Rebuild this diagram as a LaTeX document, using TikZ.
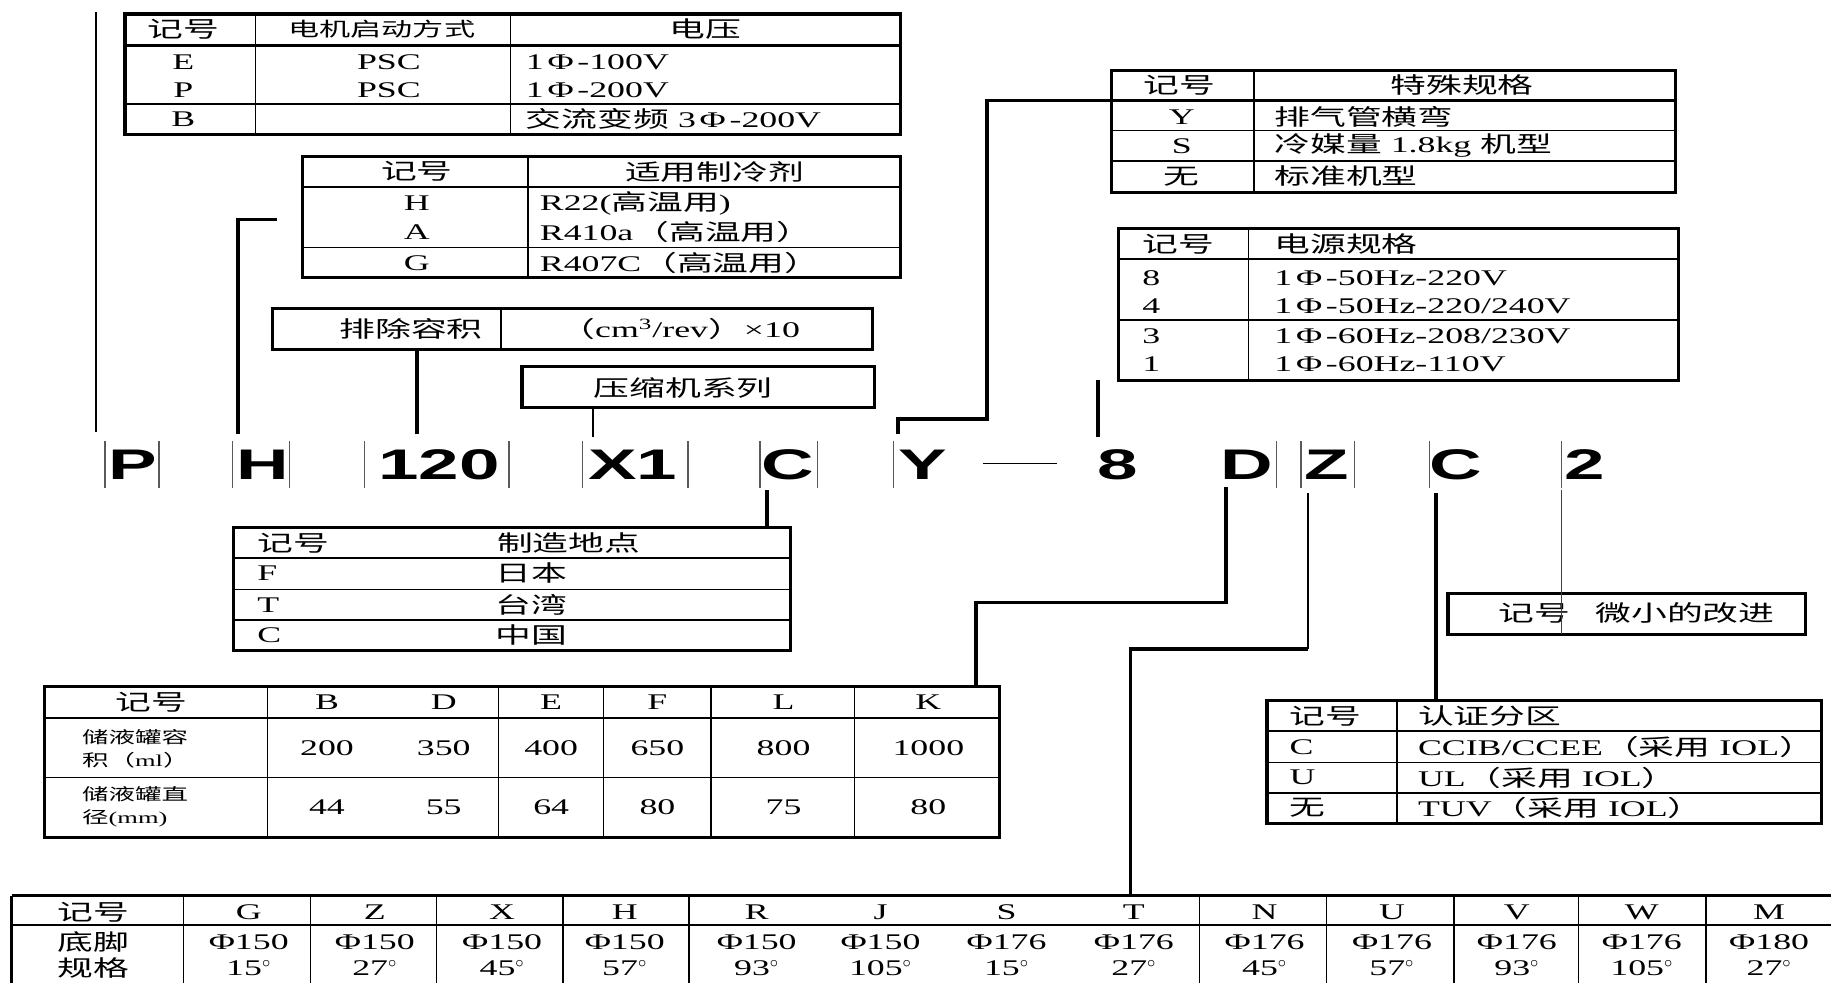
\documentclass[tikz,border=0pt]{standalone}
\usepackage{fontspec}
\setmainfont{Liberation Serif}[FakeStretch=1.6]
\setsansfont{Liberation Sans}[FakeStretch=1.7]
\newfontfamily\cjk{Noto Sans CJK SC}[FakeStretch=1.6]
\usetikzlibrary{positioning, calc}
\newcommand{\zh}[1]{{\cjk #1}}

\tikzset{
  tabframe/.style={line width=1.6pt},
  tabhead/.style={line width=1.1pt},
  tabrule/.style={line width=0.7pt},
  leadthick/.style={line width=1.9pt},
  leadmid/.style={line width=1.2pt},
  leadthin/.style={line width=0.8pt},
  codebar/.style={line width=0.8pt, black!65},
  celltext/.style={inner sep=0pt, font=\fontsize{11.5}{13}\selectfont},
  cellsmall/.style={inner sep=0pt, align=left, font=\fontsize{8.5}{12}\selectfont},
  codeletter/.style={inner sep=0pt, font=\sffamily\bfseries\fontsize{22}{24}\selectfont},
}

\begin{document}
\begin{tikzpicture}[x=0.6pt, y=-0.6pt]
  \useasboundingbox (0,0) rectangle (1568,842);

  % model code
  \node[codeletter] (cP) at (114,398) {P};
  \node[codeletter] (cH) at (225,398) {H};
  \node[codeletter] (c120) at (376,398) {120};
  \node[codeletter] (cX1) at (542,398) {X1};
  \node[codeletter] (cC) at (675,398) {C};
  \node[codeletter] (cY) at (790,398) {Y};
  \node[codeletter] (c8) at (957,398) {8};
  \node[codeletter] (cD) at (1068,398) {D};
  \node[codeletter] (cZ) at (1136,398) {Z};
  \node[codeletter] (cC2) at (1247,398) {C};
  \node[codeletter] (c2) at (1357,398) {2};
  \foreach \bx in {90,136,199,248,312,436,499,589,651,700,765,1093,1114,1160,1224,1337}
    \draw[codebar] (\bx,378) -- (\bx,418);
  \draw[leadthin] (842,397) -- (905,397);

  % motor start / voltage
  \coordinate (motNW) at (107,12);
  \coordinate (motSE) at (771,115);
  \draw[tabframe] (motNW) rectangle (motSE);
  \draw[tabhead] (107,39) -- (771,39);
  \draw[tabrule] (107,89) -- (771,89);
  \draw[tabrule] (219,12) -- (219,115) (437,12) -- (437,115);
  \node[celltext] (motH1) at (157,25) {\zh{记号}};
  \node[celltext, font=\fontsize{10}{12}\selectfont] (motH2) at (327,25) {\zh{电机启动方式}};
  \node[celltext] (motH3) at (604,25) {\zh{电压}};
  \node[celltext] (motE) at (157,53) {E};
  \node[celltext] (motE2) at (333,53) {PSC};
  \node[celltext, anchor=west] (motE3) at (450,53) {1\,Φ\,-100V};
  \node[celltext] (motP) at (157,77) {P};
  \node[celltext] (motP2) at (333,77) {PSC};
  \node[celltext, anchor=west] (motP3) at (450,77) {1\,Φ\,-200V};
  \node[celltext] (motB) at (157,102) {B};
  \node[celltext, anchor=west] (motB3) at (450,102) {\zh{交流变频} 3\,Φ\,-200V};

  % refrigerant
  \coordinate (refNW) at (259,134);
  \coordinate (refSE) at (771,238);
  \draw[tabframe] (refNW) rectangle (refSE);
  \draw[tabhead] (259,160) -- (771,160);
  \draw[tabrule] (259,212) -- (771,212);
  \draw[tabrule] (452,134) -- (452,238);
  \node[celltext] (refH1) at (357,147) {\zh{记号}};
  \node[celltext] (refH2) at (612,147) {\zh{适用制冷剂}};
  \node[celltext] (refH) at (357,174) {H};
  \node[celltext, anchor=west] (refH3) at (462,174) {R22(\zh{高温用})};
  \node[celltext] (refA) at (357,199) {A};
  \node[celltext, anchor=west] (refA3) at (462,199) {R410a\zh{（高温用）}};
  \node[celltext] (refG) at (357,225) {G};
  \node[celltext, anchor=west] (refG3) at (462,225) {R407C\zh{（高温用）}};

  % displacement
  \coordinate (dispNW) at (233,264);
  \coordinate (dispSE) at (747,299);
  \draw[tabframe] (dispNW) rectangle (dispSE);
  \draw[tabrule] (429,264) -- (429,299);
  \node[celltext] (disp1) at (352,282) {\zh{排除容积}};
  \node[celltext] (disp2) at (582,282) {\zh{（}cm\textsuperscript{3}/rev\zh{）}×10};

  % compressor series
  \coordinate (serNW) at (447,314);
  \coordinate (serSE) at (749,349);
  \draw[tabframe] (serNW) rectangle (serSE);
  \node[celltext] (ser) at (585,332) {\zh{压缩机系列}};

  % special specification
  \coordinate (spcNW) at (952,60);
  \coordinate (spcSE) at (1435,165);
  \draw[tabframe] (spcNW) rectangle (spcSE);
  \draw[tabhead] (952,86) -- (1435,86);
  \draw[tabrule] (952,112) -- (1435,112) (952,138) -- (1435,138);
  \draw[tabhead] (1074,60) -- (1074,165);
  \node[celltext] (spcH1) at (1010,73) {\zh{记号}};
  \node[celltext] (spcH2) at (1252,73) {\zh{特殊规格}};
  \node[celltext] (spcY) at (1012,100) {Y};
  \node[celltext, anchor=west] (spcY3) at (1091,100) {\zh{排气管横弯}};
  \node[celltext] (spcS) at (1012,125) {S};
  \node[celltext, anchor=west] (spcS3) at (1091,125) {\zh{冷媒量} 1.8kg \zh{机型}};
  \node[celltext] (spcN) at (1012,151) {\zh{无}};
  \node[celltext, anchor=west] (spcN3) at (1091,151) {\zh{标准机型}};

  % power supply
  \coordinate (pwrNW) at (958,196);
  \coordinate (pwrSE) at (1437,326);
  \draw[tabframe] (pwrNW) rectangle (pwrSE);
  \draw[tabhead] (958,222) -- (1437,222);
  \draw[tabrule] (958,274) -- (1437,274);
  \draw[tabrule] (1069,196) -- (1069,326);
  \node[celltext, anchor=west] (pwrH1) at (978,209) {\zh{记号}};
  \node[celltext, anchor=west] (pwrH2) at (1091,209) {\zh{电源规格}};
  \node[celltext, anchor=west] (pwr8) at (978,238) {8};
  \node[celltext, anchor=west] (pwr83) at (1091,238) {1\,Φ\,-50Hz-220V};
  \node[celltext, anchor=west] (pwr4) at (978,262) {4};
  \node[celltext, anchor=west] (pwr43) at (1091,262) {1\,Φ\,-50Hz-220/240V};
  \node[celltext, anchor=west] (pwr3) at (978,288) {3};
  \node[celltext, anchor=west] (pwr33) at (1091,288) {1\,Φ\,-60Hz-208/230V};
  \node[celltext, anchor=west] (pwr1) at (978,312) {1};
  \node[celltext, anchor=west] (pwr13) at (1091,312) {1\,Φ\,-60Hz-110V};

  % place of manufacture
  \coordinate (locNW) at (200,452);
  \coordinate (locSE) at (677,557);
  \draw[tabframe] (locNW) rectangle (locSE);
  \draw[tabhead] (200,478) -- (677,478);
  \draw[tabrule] (200,505) -- (677,505) (200,531) -- (677,531);
  \node[celltext, anchor=west] (locH1) at (220,465) {\zh{记号}};
  \node[celltext] (locH2) at (487,465) {\zh{制造地点}};
  \foreach \k/\nm/\yy in {F/日本/491, T/台湾/518, C/中国/544} {
    \node[celltext, anchor=west] (loc\k) at (220,\yy) {\k};
    \node[celltext] (loc\k3) at (455,\yy) {\zh{\nm}};
  }

  % accumulator
  \coordinate (accNW) at (38,588);
  \coordinate (accSE) at (856,717);
  \draw[tabframe] (accNW) rectangle (accSE);
  \draw[tabhead] (38,615) -- (856,615);
  \draw[tabrule] (38,666) -- (856,666);
  \foreach \cx in {229,427,517,609,732}
    \draw[tabrule] (\cx,588) -- (\cx,717);
  \node[celltext] (accH) at (130,601) {\zh{记号}};
  \node[cellsmall, anchor=west] (accV) at (70,641) {\zh{储液罐容}\\\zh{积（}ml\zh{）}};
  \node[cellsmall, anchor=west] (accD) at (70,691) {\zh{储液罐直}\\\zh{径}(mm)};
  \foreach \x/\k/\v/\d in {280/B/200/44, 380/D/350/55, 472/E/400/64, 563/F/650/80, 671/L/800/75, 795/K/1000/80} {
    \node[celltext] (acc\k) at (\x,601) {\k};
    \node[celltext] (acc\k v) at (\x,641) {\v};
    \node[celltext] (acc\k d) at (\x,691) {\d};
  }

  % certification
  \coordinate (crtNW) at (1085,600);
  \coordinate (crtSE) at (1560,705);
  \draw[tabframe] (crtNW) rectangle (crtSE);
  \draw[tabhead] (1085,626) -- (1560,626);
  \draw[tabrule] (1085,653) -- (1560,653) (1085,679) -- (1560,679);
  \draw[tabhead] (1196,600) -- (1196,705);
  \node[celltext, anchor=west] (crtH1) at (1104,613) {\zh{记号}};
  \node[celltext, anchor=west] (crtH2) at (1214,613) {\zh{认证分区}};
  \node[celltext, anchor=west] (crtC) at (1104,640) {C};
  \node[celltext, anchor=west] (crtC3) at (1214,640) {CCIB/CCEE\zh{（采用} IOL\zh{）}};
  \node[celltext, anchor=west] (crtU) at (1104,666) {U};
  \node[celltext, anchor=west] (crtU3) at (1214,666) {UL\zh{（采用} IOL\zh{）}};
  \node[celltext, anchor=west] (crtN) at (1104,692) {\zh{无}};
  \node[celltext, anchor=west] (crtN3) at (1214,692) {TUV\zh{（采用} IOL\zh{）}};

  % minor improvement
  \coordinate (impNW) at (1240,508);
  \coordinate (impSE) at (1546,543);
  \draw[tabframe] (impNW) rectangle (impSE);
  \node[celltext, anchor=west] (imp1) at (1283,525) {\zh{记号}};
  \node[celltext, anchor=west] (imp2) at (1366,525) {\zh{微小的改进}};

  % mounting feet
  \coordinate (ftNW) at (10,767);
  \coordinate (ftNE) at (1568,767);
  \draw[tabframe] (ftNW) -- (ftNE) (ftNW) -- (10,842);
  \draw[tabrule] (10,792) -- (1568,792);
  \foreach \cx in {157,266,374,482,590,1027,1136,1245,1352,1461}
    \draw[tabrule] (\cx,767) -- (\cx,842);
  \node[celltext] (ftH) at (80,781) {\zh{记号}};
  \node[celltext] (ftA) at (80,807) {\zh{底脚}};
  \node[celltext] (ftB) at (80,829) {\zh{规格}};
  \foreach \x/\k/\d/\a in {213/G/150/15, 321/Z/150/27, 430/X/150/45, 535/H/150/57, 648/R/150/93, 754/J/150/105, 862/S/176/15, 971/T/176/27, 1083/N/176/45, 1192/U/176/57, 1299/V/176/93, 1406/W/176/105, 1515/M/180/27} {
    \node[celltext] (ft\k) at (\x,781) {\k};
    \node[celltext] (ft\k d) at (\x,807) {Φ\d};
    \node[celltext] (ft\k a) at (\x,829) {\a$^{\circ}$};
  }

  % leads
  \coordinate (hP) at (82,370);
  \coordinate (tP) at (82,10);
  \draw[leadmid] (hP) -- (tP);
  \coordinate (hH) at (204,372);
  \coordinate (tH) at (237,188);
  \draw[leadthick] (hH) |- (tH);
  \coordinate (h120) at (357,372);
  \draw[leadthick] (h120) -- (h120 |- dispSE);
  \coordinate (hX1) at (508,374);
  \draw[leadthin] (hX1) -- (hX1 |- serSE);
  \coordinate (hC) at (657,420);
  \draw[leadthick] (hC) -- (hC |- locNW);
  \coordinate (hY) at (769,372);
  \draw[leadthick] (hY) -- (769,359) -| (845,86) -- (spcNW |- 0,86);
  \coordinate (h8) at (940,374);
  \coordinate (t8) at (940,325);
  \draw[leadthick] (h8) -- (t8);
  \coordinate (hD) at (1050,417);
  \draw[leadthick] (hD) -- (1050,516) -| (accNW -| 836,0);
  \coordinate (hZ) at (1120,422);
  \coordinate (kZ) at (1120,556);
  \draw[leadthin] (hZ) -- (kZ);
  \draw[leadthick] (kZ) -| (968,767);
  \coordinate (hC2) at (1230,422);
  \draw[leadthick] (hC2) -- (hC2 |- crtNW);
  \coordinate (h2) at (1337,420);
  \draw[leadthin, black!75] (h2) -- (h2 |- impSE);
\end{tikzpicture}
\end{document}
